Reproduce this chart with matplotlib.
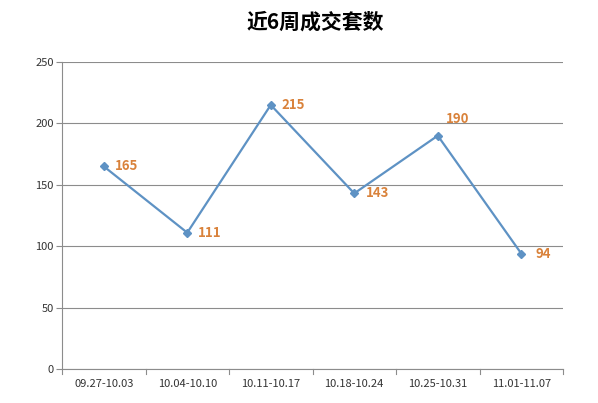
import matplotlib
matplotlib.use("Agg")
import matplotlib.pyplot as plt

plt.rcParams['font.family'] = ['Noto Sans CJK SC', 'DejaVu Sans']

# data
weeks = ["09.27-10.03", "10.04-10.10", "10.11-10.17",
         "10.18-10.24", "10.25-10.31", "11.01-11.07"]
deals = [165, 111, 215, 143, 190, 94]
label_offsets = [(8, 0), (8, 0), (8, 0), (8, 0), (6, 12), (10, 0)]

line_color = "#5E92C4"
label_color = "#D9823B"
grid_color = "#8C8C8C"

fig = plt.figure(figsize=(5.98, 4.03), dpi=100)
ax = fig.add_axes([0.1037, 0.0844, 0.8378, 0.7618])

x = list(range(len(weeks)))
ax.plot(x, deals, color=line_color, linewidth=1.6, marker="D",
        markersize=4, markerfacecolor=line_color, markeredgecolor=line_color,
        zorder=3)

for xi, val, (dx, dy) in zip(x, deals, label_offsets):
    ax.annotate(str(val), (xi, val), xytext=(dx, dy), textcoords="offset points",
                ha="left", va="center", color=label_color, fontsize=9.5,
                fontweight="bold")

ax.set_xlim(-0.5, len(weeks) - 0.5)
ax.set_ylim(0, 250)
ax.set_yticks(range(0, 251, 50))
ax.set_xticks(x)
ax.set_xticklabels(weeks, fontsize=8)
ax.tick_params(axis="y", labelsize=8, length=4, color=grid_color, pad=2,
               labelcolor="#333333")
ax.tick_params(axis="x", length=0, pad=7, labelcolor="#333333")

# category boundary ticks under the x axis
for b in range(len(weeks) + 1):
    ax.plot([b - 0.5, b - 0.5], [0, -4], color=grid_color, linewidth=0.8,
            clip_on=False)
ax.set_ylim(0, 250)

ax.grid(axis="y", color=grid_color, linewidth=0.8)
ax.set_axisbelow(True)
for side in ["top", "right"]:
    ax.spines[side].set_visible(False)
ax.spines["left"].set_color(grid_color)
ax.spines["bottom"].set_color(grid_color)

fig.text(0.528, 0.944, "近6周成交套数", ha="center", va="center",
         fontsize=15, fontweight="bold")

fig.savefig("out.png", dpi=100)
